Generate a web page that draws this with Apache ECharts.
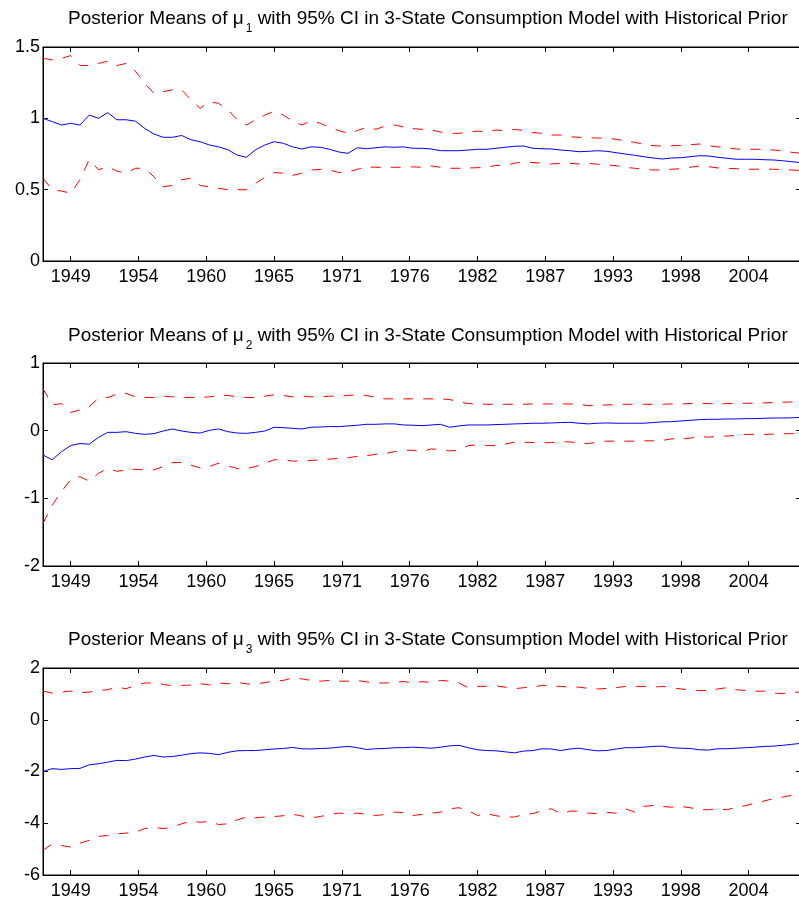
<!DOCTYPE html>
<html>
<head>
<meta charset="utf-8">
<script src="https://cdn.jsdelivr.net/npm/echarts@6/dist/echarts.min.js"></script>
<style>
  html, body { margin: 0; padding: 0; background: #fff; }
  #chart { width: 799px; height: 904px; }
</style>
</head>
<body>
<div id="chart"></div>
<script>
// quarter index (1 = 1947Q1), sampled every 3 quarters
const quarterIdx = [1, 4, 7, 10, 13, 16, 19, 22, 25, 28, 31, 34, 37, 40, 43, 46, 49, 52, 55, 58,
  61, 64, 67, 70, 73, 76, 79, 82, 85, 88, 91, 94, 97, 100, 103, 106, 109, 112, 115, 118,
  121, 124, 127, 130, 133, 136, 139, 142, 145, 148, 151, 154, 157, 160, 163, 166, 169, 172, 175, 178,
  181, 184, 187, 190, 193, 196, 199, 202, 205, 208, 211, 214, 217, 220, 223, 226, 229, 232, 235, 238,
  241, 244, 247]

const tickIdx = [10, 32, 54, 76, 98, 120, 142, 164, 186, 208, 230]
const tickYears = ['1949', '1954', '1960', '1965', '1971', '1976', '1982', '1987', '1993', '1998', '2004']

// mu_1
const mu1Mean = [1.00, 0.977, 0.953, 0.965, 0.953, 1.023, 1.00, 1.04, 0.99, 0.99,
  0.98, 0.93, 0.89, 0.867, 0.867, 0.88, 0.85, 0.836, 0.813, 0.80,
  0.78, 0.743, 0.727, 0.78, 0.813, 0.836, 0.825, 0.80, 0.785, 0.80,
  0.797, 0.783, 0.764, 0.755, 0.794, 0.787, 0.794, 0.80, 0.797, 0.80,
  0.79, 0.79, 0.785, 0.773, 0.773, 0.773, 0.778, 0.783, 0.783, 0.79,
  0.797, 0.804, 0.806, 0.79, 0.787, 0.785, 0.778, 0.773, 0.766, 0.769,
  0.773, 0.769, 0.759, 0.75, 0.741, 0.731, 0.722, 0.715, 0.722, 0.724,
  0.731, 0.738, 0.736, 0.727, 0.72, 0.713, 0.713, 0.713, 0.71, 0.708,
  0.703, 0.696, 0.689]
const mu1Upper = [1.42, 1.41, 1.42, 1.44, 1.37, 1.37, 1.385, 1.40, 1.37, 1.385,
  1.33, 1.245, 1.175, 1.187, 1.20, 1.20, 1.13, 1.07, 1.117, 1.105,
  1.06, 0.99, 0.953, 0.99, 1.023, 1.05, 1.023, 0.98, 0.953, 0.984,
  0.965, 0.937, 0.914, 0.895, 0.914, 0.937, 0.923, 0.946, 0.953, 0.94,
  0.928, 0.923, 0.918, 0.904, 0.895, 0.895, 0.904, 0.91, 0.907, 0.918,
  0.914, 0.923, 0.914, 0.90, 0.895, 0.883, 0.883, 0.871, 0.867, 0.864,
  0.862, 0.86, 0.853, 0.841, 0.832, 0.818, 0.808, 0.806, 0.808, 0.81,
  0.815, 0.82, 0.808, 0.80, 0.794, 0.785, 0.783, 0.783, 0.783, 0.778,
  0.771, 0.762, 0.755]
const mu1Lower = [0.58, 0.50, 0.49, 0.475, 0.57, 0.71, 0.64, 0.66, 0.63, 0.615,
  0.65, 0.65, 0.59, 0.52, 0.53, 0.57, 0.58, 0.53, 0.52, 0.51,
  0.50, 0.50, 0.50, 0.545, 0.586, 0.62, 0.615, 0.60, 0.615, 0.638,
  0.642, 0.638, 0.62, 0.626, 0.642, 0.66, 0.657, 0.657, 0.657, 0.657,
  0.66, 0.657, 0.666, 0.657, 0.65, 0.65, 0.652, 0.654, 0.657, 0.67,
  0.67, 0.685, 0.696, 0.69, 0.685, 0.68, 0.685, 0.685, 0.68, 0.685,
  0.678, 0.673, 0.668, 0.657, 0.65, 0.643, 0.638, 0.638, 0.643, 0.647,
  0.657, 0.666, 0.661, 0.652, 0.65, 0.647, 0.643, 0.643, 0.645, 0.643,
  0.64, 0.638, 0.633]

// mu_2
const mu2Mean = [-0.36, -0.43, -0.31, -0.22, -0.19, -0.20, -0.10, -0.025, -0.025, -0.015,
  -0.04, -0.054, -0.044, -0.005, 0.025, -0.005, -0.025, -0.035, 0.005, 0.025,
  -0.015, -0.035, -0.04, -0.025, -0.005, 0.05, 0.044, 0.035, 0.025, 0.05,
  0.054, 0.06, 0.06, 0.07, 0.08, 0.094, 0.094, 0.10, 0.10, 0.084,
  0.08, 0.074, 0.084, 0.094, 0.05, 0.07, 0.084, 0.084, 0.084, 0.09,
  0.094, 0.10, 0.104, 0.11, 0.11, 0.114, 0.12, 0.123, 0.11, 0.10,
  0.11, 0.114, 0.11, 0.11, 0.11, 0.11, 0.12, 0.13, 0.133, 0.143,
  0.153, 0.163, 0.168, 0.168, 0.173, 0.173, 0.178, 0.178, 0.183, 0.187,
  0.187, 0.19, 0.197]
const mu2Upper = [0.62, 0.38, 0.40, 0.27, 0.306, 0.355, 0.48, 0.49, 0.54, 0.55,
  0.50, 0.49, 0.49, 0.51, 0.50, 0.49, 0.49, 0.49, 0.50, 0.52,
  0.52, 0.50, 0.49, 0.49, 0.51, 0.53, 0.52, 0.50, 0.51, 0.50,
  0.50, 0.51, 0.51, 0.52, 0.53, 0.52, 0.49, 0.47, 0.47, 0.47,
  0.47, 0.47, 0.47, 0.47, 0.46, 0.425, 0.40, 0.395, 0.39, 0.39,
  0.39, 0.39, 0.39, 0.395, 0.395, 0.395, 0.395, 0.395, 0.39, 0.37,
  0.375, 0.38, 0.385, 0.39, 0.39, 0.39, 0.39, 0.39, 0.395, 0.395,
  0.40, 0.405, 0.40, 0.395, 0.40, 0.40, 0.405, 0.405, 0.41, 0.415,
  0.42, 0.425, 0.425]
const mu2Lower = [-1.37, -1.10, -0.90, -0.72, -0.68, -0.745, -0.63, -0.56, -0.60, -0.58,
  -0.57, -0.58, -0.58, -0.53, -0.47, -0.47, -0.51, -0.55, -0.53, -0.48,
  -0.52, -0.56, -0.56, -0.53, -0.48, -0.43, -0.43, -0.45, -0.45, -0.44,
  -0.43, -0.42, -0.41, -0.40, -0.38, -0.37, -0.35, -0.34, -0.31, -0.29,
  -0.29, -0.31, -0.27, -0.28, -0.30, -0.29, -0.22, -0.21, -0.22, -0.22,
  -0.20, -0.17, -0.17, -0.175, -0.18, -0.175, -0.165, -0.165, -0.185, -0.19,
  -0.17, -0.155, -0.155, -0.155, -0.155, -0.15, -0.15, -0.145, -0.12, -0.12,
  -0.11, -0.09, -0.095, -0.085, -0.08, -0.07, -0.055, -0.055, -0.055, -0.05,
  -0.045, -0.045, -0.04]

// mu_3
const mu3Mean = [-2.0, -1.89, -1.92, -1.89, -1.88, -1.74, -1.70, -1.64, -1.57, -1.58,
  -1.52, -1.44, -1.38, -1.44, -1.42, -1.37, -1.31, -1.28, -1.30, -1.35,
  -1.26, -1.20, -1.19, -1.19, -1.16, -1.13, -1.11, -1.07, -1.12, -1.13,
  -1.11, -1.10, -1.06, -1.03, -1.08, -1.15, -1.12, -1.11, -1.08, -1.08,
  -1.06, -1.08, -1.10, -1.06, -1.01, -0.99, -1.08, -1.16, -1.19, -1.20,
  -1.24, -1.28, -1.21, -1.19, -1.12, -1.13, -1.19, -1.13, -1.10, -1.16,
  -1.20, -1.19, -1.13, -1.08, -1.08, -1.06, -1.03, -1.02, -1.08, -1.10,
  -1.11, -1.16, -1.17, -1.12, -1.12, -1.10, -1.08, -1.06, -1.03, -1.02,
  -0.99, -0.95, -0.91]
const mu3Upper = [1.11, 1.03, 1.07, 1.11, 1.04, 1.07, 1.13, 1.16, 1.26, 1.20,
  1.33, 1.42, 1.42, 1.37, 1.31, 1.33, 1.34, 1.39, 1.35, 1.42,
  1.39, 1.44, 1.39, 1.37, 1.44, 1.49, 1.52, 1.62, 1.58, 1.52,
  1.49, 1.52, 1.49, 1.49, 1.52, 1.46, 1.42, 1.42, 1.44, 1.48,
  1.42, 1.47, 1.44, 1.52, 1.49, 1.42, 1.24, 1.29, 1.29, 1.31,
  1.26, 1.20, 1.24, 1.26, 1.33, 1.29, 1.29, 1.26, 1.26, 1.21,
  1.19, 1.21, 1.24, 1.29, 1.29, 1.29, 1.26, 1.29, 1.24, 1.19,
  1.16, 1.13, 1.13, 1.19, 1.24, 1.16, 1.13, 1.10, 1.11, 1.03,
  1.01, 1.06, 1.07]
const mu3Lower = [-5.05, -4.8, -4.86, -4.92, -4.77, -4.66, -4.51, -4.47, -4.41, -4.38,
  -4.34, -4.21, -4.15, -4.21, -4.15, -4.02, -3.92, -3.96, -3.93, -4.05,
  -4.02, -3.87, -3.76, -3.79, -3.76, -3.74, -3.71, -3.65, -3.72, -3.79,
  -3.74, -3.66, -3.61, -3.63, -3.61, -3.66, -3.70, -3.66, -3.57, -3.59,
  -3.70, -3.66, -3.61, -3.57, -3.44, -3.40, -3.51, -3.70, -3.63, -3.71,
  -3.76, -3.76, -3.66, -3.63, -3.51, -3.44, -3.63, -3.53, -3.53, -3.61,
  -3.63, -3.58, -3.61, -3.44, -3.57, -3.35, -3.31, -3.35, -3.38, -3.35,
  -3.40, -3.47, -3.48, -3.44, -3.48, -3.38, -3.32, -3.22, -3.14, -3.05,
  -2.99, -2.92, -2.89]

const panels = [
  { sub: '1', mean: mu1Mean, upper: mu1Upper, lower: mu1Lower, min: 0, max: 1.5, interval: 0.5, top: 47, height: 214, titleTop: 9 },
  { sub: '2', mean: mu2Mean, upper: mu2Upper, lower: mu2Lower, min: -2, max: 1, interval: 1, top: 363, height: 203, titleTop: 326 },
  { sub: '3', mean: mu3Mean, upper: mu3Upper, lower: mu3Lower, min: -6, max: 2, interval: 2, top: 668, height: 207, titleTop: 630 }
]

const font = 'Liberation Sans, Arial, Helvetica, sans-serif'
const toPairs = arr => quarterIdx.map((q, j) => [q, arr[j]])
const yearOf = v => tickYears[tickIdx.indexOf(v)] || ''

const chart = echarts.init(document.getElementById('chart'), null, { renderer: 'canvas' })

const grid = []
const xAxis = []
const yAxis = []
const series = []
const title = []

panels.forEach((p, n) => {
  grid.push({
    left: 43,
    right: -2,
    top: p.top,
    height: p.height,
    show: true,
    borderColor: '#000',
    borderWidth: 1,
    backgroundColor: '#fff',
    outerBoundsMode: 'none'
  })
  title.push({
    left: 68,
    top: p.titleTop,
    padding: 0,
    text: '{t|Posterior Means of }{m|μ}{s|' + p.sub + '}{t| with 95% CI in 3-State Consumption Model with Historical Prior}',
    textStyle: {
      fontFamily: font,
      fontSize: 19,
      fontWeight: 'normal',
      color: '#000',
      rich: {
        t: { fontFamily: font, fontSize: 19, lineHeight: 22, verticalAlign: 'top', color: '#000' },
        m: { fontFamily: font, fontSize: 19, lineHeight: 22, verticalAlign: 'top', color: '#000', padding: [0, 1, 0, 0] },
        s: { fontFamily: font, fontSize: 12, lineHeight: 14, verticalAlign: 'top', color: '#000', padding: [14, 0, 0, 1] }
      }
    }
  })
  const tickStyle = { show: true, inside: true, length: 5, lineStyle: { color: '#000', width: 1 } }
  // bottom axis with year labels
  xAxis.push({
    gridIndex: n,
    type: 'value',
    position: 'bottom',
    min: 1,
    max: 247,
    axisLine: { show: true, onZero: false, lineStyle: { color: '#000', width: 1 } },
    axisTick: Object.assign({ customValues: tickIdx }, tickStyle),
    axisLabel: {
      customValues: tickIdx,
      formatter: yearOf,
      color: '#000',
      fontFamily: font,
      fontSize: 18,
      margin: 7
    },
    splitLine: { show: false }
  })
  // top axis, ticks only
  xAxis.push({
    gridIndex: n,
    type: 'value',
    position: 'top',
    min: 1,
    max: 247,
    axisLine: { show: true, onZero: false, lineStyle: { color: '#000', width: 1 } },
    axisTick: Object.assign({ customValues: tickIdx }, tickStyle),
    axisLabel: { show: false },
    splitLine: { show: false }
  })
  yAxis.push({
    gridIndex: n,
    type: 'value',
    position: 'left',
    min: p.min,
    max: p.max,
    interval: p.interval,
    axisLine: { show: true, onZero: false, lineStyle: { color: '#000', width: 1 } },
    axisTick: tickStyle,
    axisLabel: { color: '#000', fontFamily: font, fontSize: 18, margin: 3 },
    splitLine: { show: false }
  })
  yAxis.push({
    gridIndex: n,
    type: 'value',
    position: 'right',
    min: p.min,
    max: p.max,
    interval: p.interval,
    axisLine: { show: true, onZero: false, lineStyle: { color: '#000', width: 1 } },
    axisTick: tickStyle,
    axisLabel: { show: false },
    splitLine: { show: false }
  })
  const base = { type: 'line', xAxisIndex: n * 2, yAxisIndex: n * 2, showSymbol: false, symbol: 'none', silent: true }
  series.push(Object.assign({}, base, {
    name: 'mean' + p.sub,
    data: toPairs(p.mean),
    lineStyle: { color: '#0000ff', width: 1 }
  }))
  series.push(Object.assign({}, base, {
    name: 'upper' + p.sub,
    data: toPairs(p.upper),
    lineStyle: { color: '#ff0000', width: 1, type: [10, 10] }
  }))
  series.push(Object.assign({}, base, {
    name: 'lower' + p.sub,
    data: toPairs(p.lower),
    lineStyle: { color: '#ff0000', width: 1, type: [10, 10] }
  }))
})

chart.setOption({
  animation: false,
  backgroundColor: '#fff',
  title: title,
  grid: grid,
  xAxis: xAxis,
  yAxis: yAxis,
  series: series
})
</script>
</body>
</html>
